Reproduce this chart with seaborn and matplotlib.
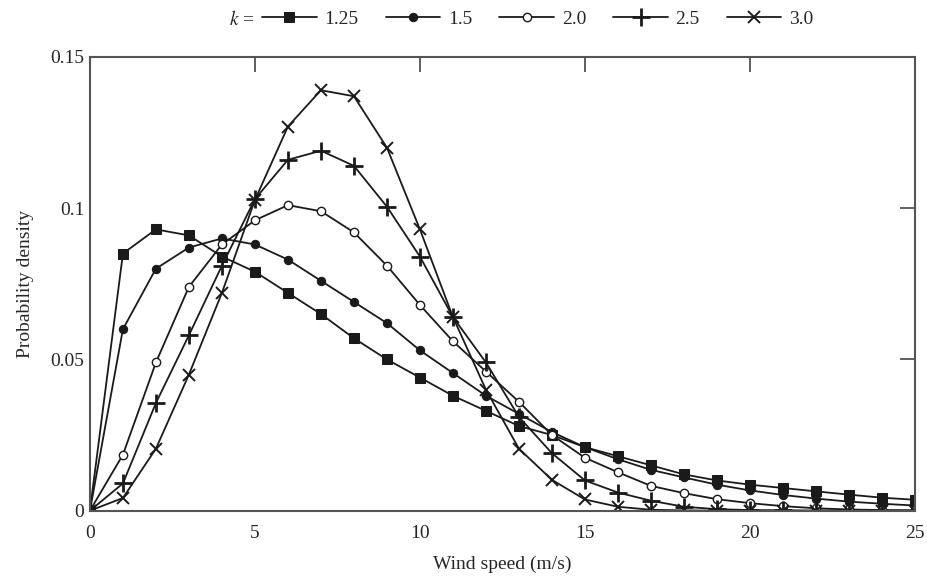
import numpy as np
import pandas as pd
import matplotlib
matplotlib.use("Agg")
import matplotlib.pyplot as plt
import seaborn as sns

# wind speed (m/s) at the marker positions
speed = list(range(26))

# probability density, one list per shape factor k
k_125 = [0, 0.085, 0.093, 0.091, 0.084, 0.079, 0.072, 0.065, 0.057, 0.050,
         0.044, 0.038, 0.033, 0.028, 0.025, 0.021, 0.018, 0.015, 0.012, 0.010,
         0.0086, 0.0075, 0.0064, 0.0053, 0.0043, 0.0036]
k_15 = [0, 0.060, 0.080, 0.087, 0.090, 0.088, 0.083, 0.076, 0.069, 0.062,
        0.053, 0.0455, 0.038, 0.032, 0.026, 0.021, 0.017, 0.0135, 0.011, 0.0086,
        0.0067, 0.0052, 0.0040, 0.0030, 0.0023, 0.0017]
k_20 = [0, 0.0185, 0.049, 0.074, 0.088, 0.096, 0.101, 0.099, 0.092, 0.081,
        0.068, 0.056, 0.046, 0.036, 0.025, 0.0175, 0.0127, 0.0082, 0.0058, 0.0038,
        0.0025, 0.0015, 0.0008, 0.0004, 0.0002, 0.0001]
k_25 = [0, 0.009, 0.0356, 0.058, 0.081, 0.103, 0.116, 0.119, 0.114, 0.1005,
        0.084, 0.064, 0.049, 0.031, 0.019, 0.0100, 0.0060, 0.0033, 0.0013, 0.0005,
        0.0002, 0.0001, 0, 0, 0, 0]
k_30 = [0, 0.0042, 0.0205, 0.045, 0.072, 0.1027, 0.127, 0.139, 0.137, 0.120,
        0.093, 0.064, 0.040, 0.0205, 0.0102, 0.0037, 0.0013, 0.0003, 0.0001, 0,
        0, 0, 0, 0, 0, 0]

k_labels = ["1.25", "1.5", "2.0", "2.5", "3.0"]
x_ticks = [0, 5, 10, 15, 20, 25]
y_ticks = [0, 0.05, 0.1, 0.15]
y_tick_labels = ["0", "0.05", "0.1", "0.15"]

sns.set_theme(style="white")
plt.rcParams["font.family"] = ["Liberation Serif", "DejaVu Serif"]
plt.rcParams["mathtext.fontset"] = "stix"

fig = plt.figure(figsize=(9.27, 5.87), dpi=100)
ax = fig.add_axes([0.097, 0.13, 0.89, 0.773])

series = [k_125, k_15, k_20, k_25, k_30]
styles = [
    dict(marker="s", ms=7.5, mfc="k", mec="k"),
    dict(marker="o", ms=6, mfc="k", mec="k"),
    dict(marker="o", ms=6, mfc="white", mec="k", mew=1.0),
    dict(marker="+", ms=13, mec="k", mew=2.0),
    dict(marker="x", ms=8, mec="k", mew=1.4),
]

for vals, lab, st in zip(series, k_labels, styles):
    sns.lineplot(x=speed, y=vals, ax=ax, color="k", lw=1.3, label=lab, **st)

ax.set_xlim(0, 25)
ax.set_ylim(0, 0.15)
ax.set_xticks(x_ticks)
ax.set_xticklabels([str(t) for t in x_ticks])
ax.set_yticks(y_ticks)
ax.set_yticklabels(y_tick_labels)
ax.tick_params(axis="both", direction="in", length=11, width=1.2, color="#444",
               labelsize=14, top=True, right=True, pad=4)
ax.tick_params(axis="x", pad=10)
for s in ax.spines.values():
    s.set_color("#555")
    s.set_linewidth(1.5)

ax.set_xlabel("Wind speed (m/s)", fontsize=14, labelpad=10)
ax.set_ylabel("Probability density", fontsize=14, labelpad=12)

handles, labels = ax.get_legend_handles_labels()
ax.get_legend().remove()
fig.legend(handles, labels, loc="center left", bbox_to_anchor=(0.264, 0.967),
           ncol=5, frameon=False, fontsize=14, handlelength=2.8,
           columnspacing=1.4, handletextpad=0.4)
fig.text(0.275, 0.967, "$k$ =", ha="right", va="center", fontsize=14)

fig.savefig("out.png", dpi=100)
